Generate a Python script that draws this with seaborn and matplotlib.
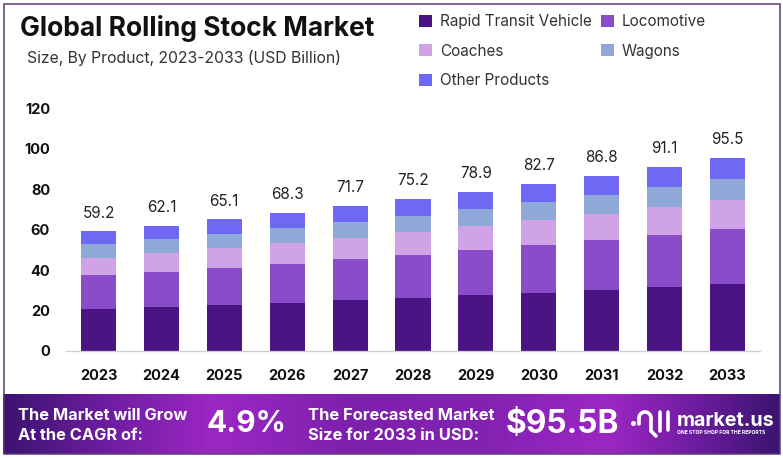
import numpy as np
import pandas as pd
import seaborn as sns
import matplotlib
matplotlib.use("Agg")
import matplotlib.pyplot as plt
from matplotlib.colors import LinearSegmentedColormap
from matplotlib.patches import Rectangle

years = ["2023","2024","2025","2026","2027","2028","2029","2030","2031","2032","2033"]
rapid_transit = [20.8,21.8,22.8,23.8,25.2,26.2,27.7,28.7,30.2,31.7,33.2]
locomotive = [16.8,17.3,18.3,19.3,20.3,21.3,22.3,23.8,24.8,25.7,27.2]
coaches = [8.6,9.6,10.0,10.4,10.4,11.4,11.9,12.4,12.8,14.0,14.4]
wagons = [6.8,6.7,6.8,7.4,8.0,7.9,8.4,8.9,9.4,9.6,10.2]
other = [6.2,6.7,7.2,7.4,7.8,8.4,8.6,8.9,9.6,10.1,10.5]
totals = [59.2,62.1,65.1,68.3,71.7,75.2,78.9,82.7,86.8,91.1,95.5]
series_names = ["Rapid Transit Vehicle","Locomotive","Coaches","Wagons","Other Products"]
series_vals = [rapid_transit, locomotive, coaches, wagons, other]
colors = ["#4a1583","#8a4cc8","#cfa3e6","#8ea8d8","#6e68f5"]

sns.set_theme(style="white")
FONT = ["Inter", "DejaVu Sans"]
plt.rcParams["font.family"] = FONT
W, H = 783, 458
fig = plt.figure(figsize=(W/100, H/100), dpi=100, facecolor="white")

def px_axes(l, t, r, b, **kw):
    return fig.add_axes([l/W, 1-b/H, (r-l)/W, (b-t)/H], **kw)

# chart axes
ax = px_axes(66, 108.6, 760, 351)
df = pd.DataFrame({"year": years})
bottom = np.zeros(len(years))
for name, vals, c in zip(series_names, series_vals, colors):
    sns.barplot(data=df.assign(v=vals), x="year", y="v", color=c, width=0.557,
                bottom=bottom, label=name, ax=ax, saturation=1, legend=False,
                linewidth=0)
    bottom = bottom + np.array(vals)
ax.set_xlim(-0.517, 10.517)
ax.set_ylim(0, 120)
ax.set_xlabel(""); ax.set_ylabel("")
ax.set_yticks([0,20,40,60,80,100,120])
ax.tick_params(axis="x", length=0, pad=13, labelsize=10.5, labelcolor="#111111")
ax.tick_params(axis="y", length=0, pad=11.5, labelsize=10.5, labelcolor="#111111")
for t in ax.get_xticklabels() + ax.get_yticklabels():
    t.set_fontweight("bold")
for s in ["top","left","right"]:
    ax.spines[s].set_visible(False)
ax.spines["bottom"].set_color("#cfcfd4")
ax.spines["bottom"].set_linewidth(0.9)
ax.patch.set_alpha(0)
for i, tot in enumerate(totals):
    ax.text(i, tot + 5.3, f"{tot:.1f}", ha="center", va="bottom", fontsize=11, color="#222222")

# legend
h, l = ax.get_legend_handles_labels()
order = [0, 2, 4, 1, 3]
fig.legend([h[i] for i in order], [l[i] for i in order], ncol=2, frameon=False,
           loc="upper left", bbox_to_anchor=(419/W, 1-14/H), fontsize=11,
           handlelength=0.85, handleheight=0.85, handletextpad=0.55,
           columnspacing=0.55, labelspacing=0.95, labelcolor="#333333", borderpad=0, borderaxespad=0)

# title texts
fig.text(20/W, 1-28/H, "Global Rolling Stock Market", fontsize=19, fontweight="bold",
         color="#111111", va="center", ha="left")
fig.text(27/W, 1-58.5/H, "Size, By Product, 2023-2033 (USD Billion)", fontsize=11.35,
         color="#333333", va="center", ha="left")

# overlay frame + band, in pixel coordinates
ov = fig.add_axes([0,0,1,1], zorder=5)
ov.set_xlim(0, W); ov.set_ylim(H, 0); ov.axis("off"); ov.patch.set_alpha(0)
ov.add_patch(Rectangle((3.5,3.5), 776, 450, fill=False, ec="#5b3a78", lw=1.1))
cmap = LinearSegmentedColormap.from_list("band", [
    (0,"#3b1470"),(0.12,"#6a1c9c"),(0.27,"#9c27c4"),(0.45,"#7d20ac"),
    (0.62,"#8322b2"),(0.78,"#9c27c4"),(0.9,"#6a1c9c"),(1,"#3b1470")])
ov.imshow(np.linspace(0,1,512).reshape(1,-1), cmap=cmap, aspect="auto",
          extent=(3,780,454,394), interpolation="bilinear")
ov.set_xlim(0, W); ov.set_ylim(H, 0)
kw = dict(color="white", fontweight="bold", va="center", ha="left")
ov.text(18, 415, "The Market will Grow", fontsize=11.8, **kw)
ov.text(18, 435, "At the CAGR of:", fontsize=11.8, **kw)
ov.text(207, 424, "4.9%", fontsize=21.5, **kw)
ov.text(308, 415, "The Forecasted Market", fontsize=11.9, **kw)
ov.text(308, 435, "Size for 2033 in USD:", fontsize=11.9, **kw)
ov.text(506, 424, "$95.5B", fontsize=22.8, **kw)
ov.text(677, 421, "market.us", fontsize=14.2, **kw)
ov.text(677, 433, "ONE STOP SHOP FOR THE REPORTS", fontsize=3.6, **kw)
# logo mark
t = np.linspace(np.pi, 2*np.pi, 30)
ov.plot(645+6*np.cos(t), 418+6*np.sin(t), color="white", lw=2.6, solid_capstyle="round")
ov.plot([639,639],[418,424], color="white", lw=2.6, solid_capstyle="round")
ov.plot([651,651,656],[418,431,436], color="white", lw=2.6, solid_capstyle="round")
ov.plot([660,660],[412,431], color="white", lw=2.6, solid_capstyle="round")
ov.plot([668,668],[412,430], color="white", lw=2.6, solid_capstyle="round")
ov.plot([633],[423], "o", color="white", ms=2.6)

fig.savefig("out.png", dpi=100, facecolor="white")
